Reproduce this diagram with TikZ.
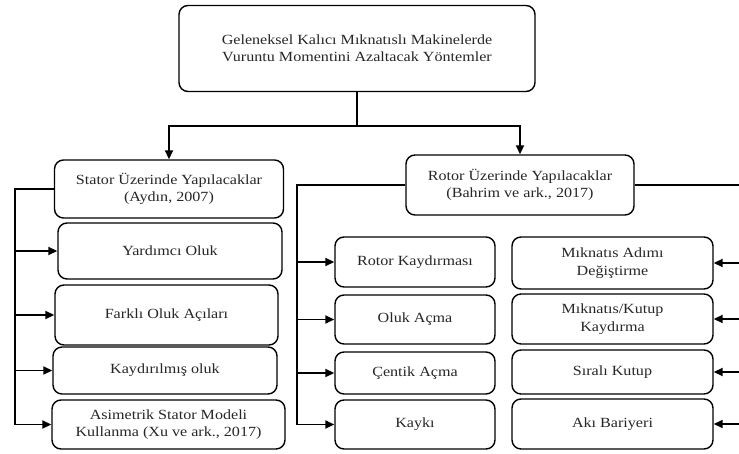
\documentclass[tikz,border=0pt]{standalone}
\usepackage{fontspec}
\setmainfont{Liberation Serif}[FakeStretch=1.15]
\usepackage{tikz}
\usetikzlibrary{positioning,calc,arrows.meta}

\begin{document}
\begin{tikzpicture}[x=1pt,y=-1pt,
    kutu/.style={draw,line width=1.4pt,rounded corners=9pt,align=center,
        text=black!85,font=\fontsize{14}{17.5}\selectfont,inner sep=2pt},
    hat/.style={line width=1.8pt},
    ok/.style={hat,-{Triangle[length=9pt,width=8pt]}}]
    % cerceve
    \clip (0,0) rectangle (739,454);
    % ana kutu
    \node[kutu,minimum width=356,minimum height=86] (ana) at (357,48.5)
        {Geleneksel Kalıcı Mıknatıslı Makinelerde\\Vuruntu Momentini Azaltacak Yöntemler};
    % stator ve rotor
    \node[kutu,minimum width=229,minimum height=58] (stator) at (169,189)
        {Stator Üzerinde Yapılacaklar\\(Aydın, 2007)};
    \node[kutu,minimum width=228,minimum height=60] (rotor) at (520,185)
        {Rotor Üzerinde Yapılacaklar\\(Bahrim ve ark., 2017)};
    % stator yontemleri
    \node[kutu,minimum width=224,minimum height=56] (s1) at (170,251) {Yardımcı Oluk};
    \node[kutu,minimum width=223,minimum height=60] (s2) at (166.5,315) {Farklı Oluk Açıları};
    \node[kutu,minimum width=224,minimum height=47] (s3) at (165,370.5) {Kaydırılmış oluk};
    \node[kutu,minimum width=233,minimum height=49] (s4) at (168.5,424.5)
        {Asimetrik Stator Modeli\\Kullanma (Xu ve ark., 2017)};
    % rotor yontemleri (sol)
    \node[kutu,minimum width=160,minimum height=50] (r1) at (415,262) {Rotor Kaydırması};
    \node[kutu,minimum width=160,minimum height=49] (r2) at (415,319.5) {Oluk Açma};
    \node[kutu,minimum width=160,minimum height=42] (r3) at (415,373) {Çentik Açma};
    \node[kutu,minimum width=160,minimum height=49] (r4) at (415,424.5) {Kaykı};
    % rotor yontemleri (sag)
    \node[kutu,minimum width=201,minimum height=52] (m1) at (612.5,263)
        {Mıknatıs Adımı\\Değiştirme};
    \node[kutu,minimum width=201,minimum height=50] (m2) at (612.5,319)
        {Mıknatıs/Kutup\\Kaydırma};
    \node[kutu,minimum width=201,minimum height=44] (m3) at (612.5,372) {Sıralı Kutup};
    \node[kutu,minimum width=201,minimum height=50] (m4) at (612.5,424) {Akı Bariyeri};
    % ana dallanma
    \draw[hat] (ana.south) -- ++(0,34) coordinate (ayrim);
    \draw[ok] (ayrim) -| (stator.north);
    \draw[ok] (ayrim) -| (rotor.north);
    % hat koordinatlari
    \coordinate (sbus) at (15,0);
    \coordinate (rbus) at (297,0);
    \coordinate (mbus) at (745,0);
    % stator dali
    \draw[hat] (stator.west) -- (stator.west -| sbus) -- (s4.west -| sbus);
    \foreach \n in {s1,s2,s3,s4}
        \draw[ok] (\n.west -| sbus) -- (\n.west);
    % rotor sol dali
    \draw[hat] (rotor.west) -- (rotor.west -| rbus) -- (r4.west -| rbus);
    \foreach \n in {r1,r2,r3,r4}
        \draw[ok] (\n.west -| rbus) -- (\n.west);
    % rotor sag dali
    \draw[hat] (rotor.east) -- (rotor.east -| mbus) -- (m4.east -| mbus);
    \foreach \n in {m1,m2,m3,m4}
        \draw[ok] (\n.east -| mbus) -- (\n.east);
\end{tikzpicture}
\end{document}
